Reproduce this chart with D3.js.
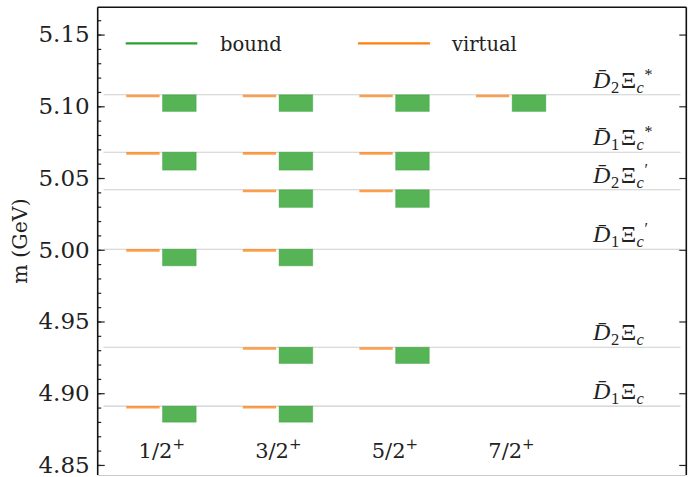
<!DOCTYPE html>
<html><head><meta charset="utf-8">
<script src="https://cdn.jsdelivr.net/npm/d3@7"></script>
<style>body{margin:0;background:#fff;}svg{display:block;}</style>
</head><body>
<svg id="c" width="688" height="477"></svg>
<script>
// ---- data ----
const jLabels = ["1/2", "3/2", "5/2", "7/2"];
const thresholdSub = ["1", "2", "1", "2", "1", "2"];          // D̄_n
const thresholdSup = ["", "", "′", "′", "*", "*"];            // Ξ_c^{...}
const thresholdMass = [4.891, 4.932, 5.0004, 5.0418, 5.068, 5.108];
const boundUpper = [4.891, 4.932, 5.0004, 5.0418, 5.068, 5.108];
const boundLower = [4.8798, 4.9207, 4.9888, 5.0295, 5.0555, 5.0964];
const virtualMass = [4.8902, 4.9312, 4.9996, 5.041, 5.0672, 5.1072];
const presentJ = [[1, 2], [2, 3], [1, 2], [2, 3], [1, 2, 3], [1, 2, 3, 4]];
const yMajor = [4.85, 4.90, 4.95, 5.00, 5.05, 5.10, 5.15];
const yMinor = d3.range(4.85, 5.165, 0.01);

// ---- layout ----
const svg = d3.select("#c");
const x = d3.scaleLinear().domain([0.45, 5.5]).range([97.7, 686.3]);
const y = d3.scaleLinear().domain([4.843, 5.169]).range([475, 7.3]);
const green = "#2ca02c", orange = "#ff7f0e";
const serif = "'DejaVu Serif', serif";
const mathFont = "'Liberation Serif', 'DejaVu Serif', serif";

// threshold lines
svg.append("g").selectAll("line").data(thresholdMass).join("line")
  .attr("x1", x(0.5)).attr("x2", x(5.45))
  .attr("y1", d => y(d)).attr("y2", d => y(d))
  .attr("stroke", "#cfcfcf").attr("stroke-width", 1.1);

// states
const states = [];
presentJ.forEach((js, t) => js.forEach(j => states.push({ j, t })));
svg.append("g").selectAll("line").data(states).join("line")
  .attr("x1", d => x(d.j - 0.305)).attr("x2", d => x(d.j - 0.019))
  .attr("y1", d => y(virtualMass[d.t])).attr("y2", d => y(virtualMass[d.t]))
  .attr("stroke", orange).attr("stroke-opacity", 0.75).attr("stroke-width", 2.6);
svg.append("g").selectAll("rect").data(states).join("rect")
  .attr("x", d => x(d.j + 0.006)).attr("width", d => x(d.j + 0.295) - x(d.j + 0.006))
  .attr("y", d => y(boundUpper[d.t])).attr("height", d => y(boundLower[d.t]) - y(boundUpper[d.t]))
  .attr("fill", green).attr("fill-opacity", 0.8)
  .attr("stroke", green).attr("stroke-opacity", 0.35).attr("stroke-width", 1);

// threshold labels (each part its own text element)
thresholdMass.forEach((m, i) => {
  const base = y(m) - 7;
  let cx = x(4.7);
  const g = svg.append("g").attr("font-family", mathFont).attr("fill", "#222");
  const put = (txt, dx, dy, size, italic) => {
    const t = g.append("text").attr("x", cx + dx).attr("y", base + dy)
      .attr("font-size", size).attr("font-style", italic ? "italic" : "normal").text(txt);
    return t.node().getComputedTextLength();
  };
  cx += put("D\u0304", 0, 0, 24, true) + 0.5;
  cx += put(thresholdSub[i], 0, 5, 16.5, false) + 1.5;
  cx += put("Ξ", 0, 0, 24, false) + 0.5;
  cx += put("c", 0, 5, 16.5, true);
  if (thresholdSup[i]) put(thresholdSup[i], 0.5, -8, 16, false);
});

// x category labels
svg.append("g").selectAll("text").data(jLabels).join("text")
  .attr("x", (d, i) => x(i + 1)).attr("y", 458)
  .attr("text-anchor", "middle")
  .attr("font-family", serif).attr("font-size", 21).attr("fill", "#222")
  .each(function (d) {
    const s = d3.select(this);
    s.append("tspan").text(d);
    s.append("tspan").attr("font-size", 15).attr("dy", -9).text("+");
  });

// axes
const left = svg.append("g").attr("transform", `translate(${x(0.45)},0)`);
left.call(d3.axisLeft(y).tickValues(yMinor).tickSize(-3.5).tickFormat(""));
left.call(g => g.select(".domain").remove());
const leftMaj = svg.append("g").attr("transform", `translate(${x(0.45)},0)`)
  .call(d3.axisLeft(y).tickValues(yMajor).tickSize(-7).tickPadding(8).tickFormat(d3.format(".2f")));
leftMaj.select(".domain").remove();
leftMaj.selectAll("text").attr("font-family", serif).attr("font-size", 23).attr("fill", "#222").attr("dy", "0.32em");
svg.selectAll(".tick line").attr("stroke", "#222").attr("stroke-width", 1.2);

const right = svg.append("g").attr("transform", `translate(${x(5.5)},0)`);
right.call(d3.axisRight(y).tickValues(yMinor).tickSize(-3.5).tickFormat(""));
right.call(d3.axisRight(y).tickValues(yMajor).tickSize(-7).tickFormat(""));
right.select(".domain").remove();
right.selectAll(".tick line").attr("stroke", "#222").attr("stroke-width", 1.2);

// spines
svg.append("line").attr("x1", x(0.45)).attr("x2", x(0.45)).attr("y1", 7.3).attr("y2", 475).attr("stroke", "#111").attr("stroke-width", 1.6);
svg.append("line").attr("x1", x(0.45)).attr("x2", x(5.5)).attr("y1", 7.3).attr("y2", 7.3).attr("stroke", "#111").attr("stroke-width", 1.6);
svg.append("line").attr("x1", x(5.5)).attr("x2", x(5.5)).attr("y1", 7.3).attr("y2", 475).attr("stroke", "#111").attr("stroke-width", 1.6);
svg.append("line").attr("x1", x(0.45)).attr("x2", x(5.5)).attr("y1", 475.5).attr("y2", 475.5).attr("stroke", "#ccc").attr("stroke-width", 1);

// y label
svg.append("text").attr("transform", "translate(27,241) rotate(-90)")
  .attr("text-anchor", "middle").attr("font-family", serif).attr("font-size", 20.5).attr("fill", "#222")
  .text("m (GeV)");

// legend
const legend = [{ name: "bound", c: green, x0: 125.7, x1: 197.3, tx: 220 }, { name: "virtual", c: orange, x0: 358, x1: 430, tx: 452 }];
legend.forEach(l => {
  svg.append("line").attr("x1", l.x0).attr("x2", l.x1).attr("y1", 43.3).attr("y2", 43.3).attr("stroke", l.c).attr("stroke-width", 2.2);
  svg.append("text").attr("x", l.tx).attr("y", 51).attr("font-family", serif).attr("font-size", 19.5).attr("fill", "#222").text(l.name);
});
</script>
</body></html>
